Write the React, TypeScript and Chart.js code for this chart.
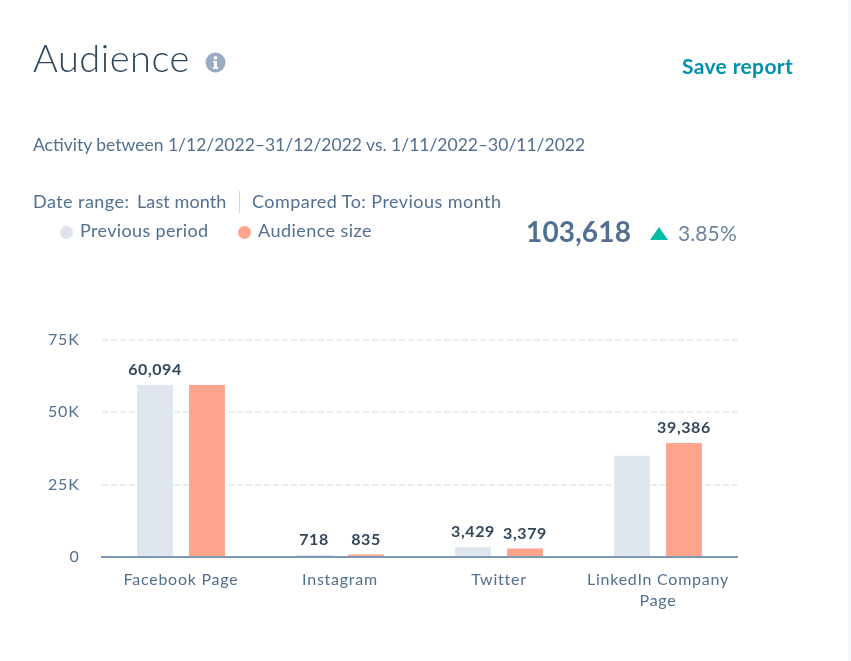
import React, { useEffect, useRef } from "react";
import { Chart, registerables } from "chart.js";

Chart.register(...registerables);

const categories = ["Facebook Page", "Instagram", "Twitter", ["LinkedIn Company", "Page"]];
const previousPeriod = [59450, 718, 3429, 35000];
const audienceSize = [59450, 835, 2950, 39386];
const previousLabels = ["60,094", "718", "3,429", ""];
const audienceLabels = ["", "835", "3,379", "39,386"];
const yTicks: Record<number, string> = { 0: "0", 25000: "25K", 50000: "50K", 75000: "75K" };

const FONT = "Lato, sans-serif";
const SLATE = "#516f90";

const tickSpacing = {
  id: "tickSpacing",
  beforeDraw(chart: any) {
    (chart.ctx as any).letterSpacing = "0.75px";
  },
};

const barLabels = {
  id: "barLabels",
  afterDatasetsDraw(chart: any) {
    const { ctx } = chart;
    [previousLabels, audienceLabels].forEach((labels, di) => {
      chart.getDatasetMeta(di).data.forEach((bar: any, i: number) => {
        if (!labels[i]) return;
        ctx.save();
        ctx.font = `700 16px ${FONT}`;
        ctx.fillStyle = "#33475b";
        ctx.textAlign = "center";
        ctx.textBaseline = "middle";
        (ctx as any).letterSpacing = "0.6px";
        ctx.fillText(labels[i], bar.x, bar.y - 15);
        ctx.restore();
      });
    });
  },
};

const text = (style: React.CSSProperties): React.CSSProperties => ({
  position: "absolute",
  whiteSpace: "nowrap",
  fontFamily: FONT,
  color: SLATE,
  lineHeight: "24px",
  ...style,
});

export default function App() {
  const ref = useRef<HTMLCanvasElement>(null);
  useEffect(() => {
    const chart = new Chart(ref.current!, {
      type: "bar",
      data: {
        labels: categories as any,
        datasets: [
          { label: "Previous period", data: previousPeriod, backgroundColor: "#dfe6ee", barPercentage: 0.69, categoryPercentage: 0.654 },
          { label: "Audience size", data: audienceSize, backgroundColor: "#ffa48c", barPercentage: 0.69, categoryPercentage: 0.654 },
        ],
      },
      options: {
        animation: false,
        responsive: false,
        layout: { padding: { top: 340, right: 110.5, left: 0, bottom: 0 } },
        plugins: { legend: { display: false }, tooltip: { enabled: false } },
        scales: {
          x: {
            afterFit: (s: any) => { s.height = 104; },
            grid: { display: false, drawTicks: false },
            border: { color: "#7c98b6", width: 2 },
            ticks: { color: SLATE, font: { family: FONT, size: 16, lineHeight: 1.32 }, padding: 12, maxRotation: 0, autoSkip: false },
          },
          y: {
            min: 0,
            max: 75000,
            afterFit: (s: any) => { s.width = 101.5; },
            afterBuildTicks: (s: any) => { s.ticks = Object.keys(yTicks).map((v) => ({ value: Number(v) })); },
            grid: { color: "#e9eef4", lineWidth: 2, drawTicks: false, tickLength: 0 },
            border: { display: false, dash: [6, 3] },
            ticks: {
              color: SLATE,
              font: { family: FONT, size: 16 },
              padding: 22,
              callback: (v: any) => yTicks[Number(v)],
            },
          },
        },
      },
      plugins: [tickSpacing, barLabels],
    } as any);
    return () => chart.destroy();
  }, []);

  return (
    <div style={{ position: "fixed", left: 0, top: 0, width: 851, height: 661, overflow: "hidden", background: "#fff" }}>
      <div style={{ position: "absolute", left: 848, top: 0, width: 3, height: 661, background: "#f5f8fa" }} />
      <canvas ref={ref} width={848} height={661} style={{ position: "absolute", left: 0, top: 0, width: 848, height: 661 }} />

      <div style={text({ left: 33, top: 35, fontSize: 38, lineHeight: "44px", fontWeight: 300, letterSpacing: 0.5, color: "#33475b" })}>Audience</div>
      <svg style={{ position: "absolute", left: 205, top: 52 }} width={21} height={21} viewBox="0 0 21 21">
        <circle cx={10.5} cy={10.5} r={10} fill="#99acc2" />
        <circle cx={10.5} cy={5.8} r={1.9} fill="#fff" />
        <path d="M8 9h4v6h1.2v2H7.8v-2H9v-4H8z" fill="#fff" />
      </svg>
      <div style={text({ left: 682, top: 54, fontSize: 21, fontWeight: 700, letterSpacing: 0.36, color: "#0091ae" })}>Save report</div>

      <div style={text({ left: 33, top: 133, fontSize: 17.5 })}>Activity between 1/12/2022–31/12/2022 vs. 1/11/2022–30/11/2022</div>

      <div style={text({ left: 33, top: 189, fontSize: 18, letterSpacing: 0.45 })}>Date range:</div>
      <div style={text({ left: 137, top: 189, fontSize: 18, letterSpacing: 0.1 })}>Last month</div>
      <div style={{ position: "absolute", left: 239, top: 191, width: 1, height: 22, background: "#cbd6e2" }} />
      <div style={text({ left: 252, top: 189, fontSize: 18, letterSpacing: 0.45 })}>Compared To: Previous month</div>

      <div style={{ position: "absolute", left: 60, top: 226, width: 13, height: 13, borderRadius: "50%", background: "#dfe3eb" }} />
      <div style={text({ left: 80, top: 218, fontSize: 18, letterSpacing: 0.35 })}>Previous period</div>
      <div style={{ position: "absolute", left: 238, top: 226, width: 13, height: 13, borderRadius: "50%", background: "#ffa48c" }} />
      <div style={text({ left: 258, top: 218, fontSize: 18, letterSpacing: 0.45 })}>Audience size</div>

      <div style={text({ left: 526, top: 216, fontSize: 28, lineHeight: "30px", fontWeight: 700, letterSpacing: 0.15 })}>103,618</div>
      <svg style={{ position: "absolute", left: 650, top: 227 }} width={18} height={14} viewBox="0 0 18 14">
        <path d="M9 0L18 13H0z" fill="#00bda5" />
      </svg>
      <div style={text({ left: 678, top: 221, fontSize: 21, letterSpacing: 0.1, color: "#6b84a0" })}>3.85%</div>
    </div>
  );
}
